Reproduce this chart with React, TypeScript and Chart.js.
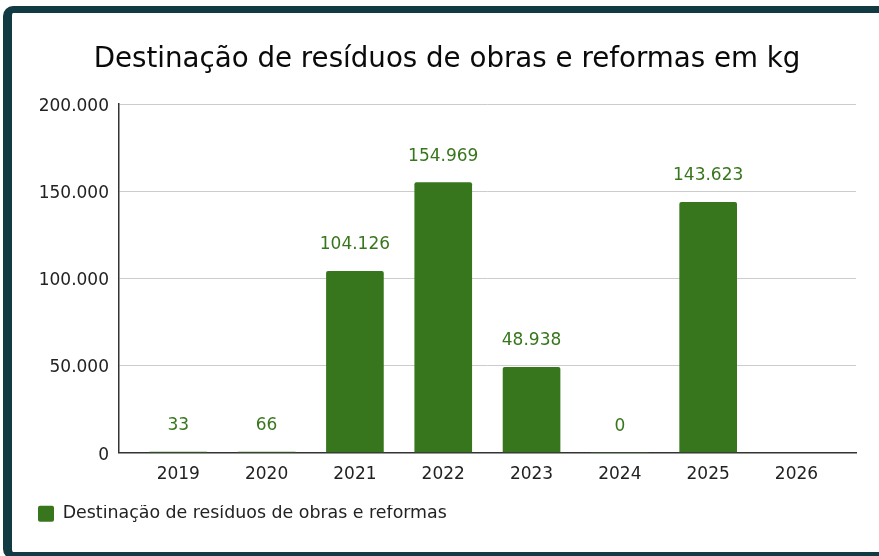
import React, { useEffect, useRef } from "react";
import { Chart, registerables } from "chart.js";

Chart.register(...registerables);

const years: number[] = [2019, 2020, 2021, 2022, 2023, 2024, 2025, 2026];
const values: (number | null)[] = [33, 66, 104126, 154969, 48938, 0, 143623, null];
const yTicks: number[] = [0, 50000, 100000, 150000, 200000];
const seriesName = "Destinação de resíduos de obras e reformas";
const titleText = "Destinação de resíduos de obras e reformas em kg";

const GREEN = "#38761d";
const FONT = "'DejaVu Sans', Verdana, sans-serif";

const fmt = (v: number) => String(Math.round(v)).replace(/\B(?=(\d{3})+(?!\d))/g, ".");

const valueLabels = {
  id: "valueLabels",
  afterDatasetsDraw(chart: any) {
    const ctx = chart.ctx;
    const meta = chart.getDatasetMeta(0);
    ctx.save();
    ctx.font = `17px ${FONT}`;
    ctx.fillStyle = GREEN;
    ctx.textAlign = "center";
    ctx.textBaseline = "middle";
    meta.data.forEach((el: any, i: number) => {
      const v = values[i];
      if (v === null || v === undefined) return;
      ctx.fillText(fmt(v), el.x, el.y - 26.5);
    });
    ctx.restore();
  },
};

export default function App() {
  const ref = useRef<HTMLCanvasElement | null>(null);
  useEffect(() => {
    if (!ref.current) return;
    const chart = new Chart(ref.current, {
      type: "bar",
      data: {
        datasets: [
          {
            label: seriesName,
            data: years.map((y, i) => ({ x: y, y: values[i] })) as any,
            backgroundColor: GREEN,
            borderWidth: 0,
            borderRadius: 2,
            borderSkipped: "bottom",
            barThickness: 57,
          },
        ],
      },
      options: {
        responsive: false,
        animation: false,
        layout: { padding: { top: 0, left: 38, right: 23, bottom: 23.5 } },
        plugins: {
          title: {
            display: true,
            text: titleText,
            color: "#0a0a0a",
            font: { family: FONT, size: 27.7, weight: "normal" },
            padding: { top: 43, bottom: 28 },
          },
          legend: {
            position: "bottom",
            align: "start",
            labels: {
              boxWidth: 16,
              boxHeight: 16,
              padding: 0,
              color: "#222",
              useBorderRadius: true,
              borderRadius: 2,
              font: { family: FONT, size: 17.4 },
            },
          },
          tooltip: { enabled: false },
        },
        scales: {
          x: {
            type: "linear",
            offset: false,
            min: 2018.3285,
            max: 2026.674,
            grid: { display: false, drawTicks: false, offset: false },
            border: { display: true, color: "#333", width: 1.5 },
            afterBuildTicks: (s: any) => {
              s.ticks = years.map((v) => ({ value: v }));
            },
            afterFit: (s: any) => {
              s.height = 52.5;
            },
            ticks: {
              padding: 12,
              color: "#222",
              font: { family: FONT, size: 17 },
              callback: (v: any) => String(v),
            },
          },
          y: {
            min: 0,
            max: 200000,
            afterBuildTicks: (s: any) => {
              s.ticks = yTicks.map((v) => ({ value: v }));
            },
            afterFit: (s: any) => {
              s.width = 81;
            },
            grid: { color: "#cccccc", drawTicks: false, lineWidth: 1 },
            border: { display: true, color: "#333", width: 1.5 },
            ticks: {
              padding: 10,
              labelOffset: 2.5,
              color: "#222",
              font: { family: FONT, size: 17 },
              callback: (v: any) => fmt(Number(v)),
            },
          },
        },
      },
      plugins: [valueLabels],
    } as any);
    return () => chart.destroy();
  }, []);

  return (
    <div
      style={{
        position: "fixed",
        left: 0,
        top: 0,
        width: 879,
        height: 556,
        overflow: "hidden",
        background: "#fff",
      }}
    >
      <div
        style={{
          position: "absolute",
          left: 3,
          top: 6,
          width: 1000,
          height: 553,
          boxSizing: "border-box",
          border: "7px solid #123a42",
          borderLeftWidth: 9,
          borderRadius: 10,
          background: "#fff",
        }}
      />
      <canvas
        ref={ref}
        width={879}
        height={556}
        style={{ position: "absolute", left: 0, top: 0, display: "block" }}
      />
    </div>
  );
}
